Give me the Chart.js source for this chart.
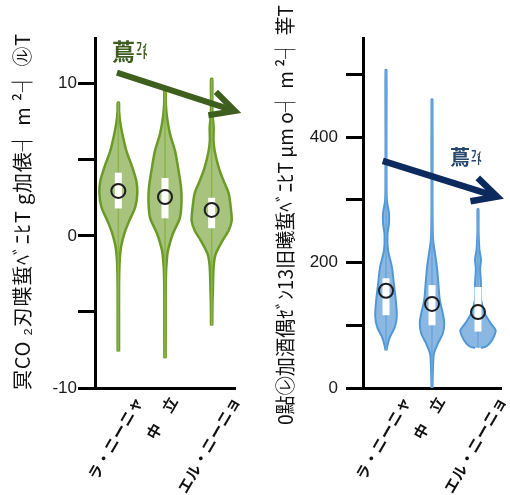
<!DOCTYPE html>
<html>
<head>
<meta charset="utf-8">
<script src="https://cdn.jsdelivr.net/npm/chart.js@4.4.1/dist/chart.umd.min.js"></script>
<style>
  html, body { margin: 0; padding: 0; background: #fff; }
  #wrap { position: relative; width: 510px; height: 495px; }
  canvas { position: absolute; top: 0; }
  #left { left: 0; }
  #right { left: 255px; }
</style>
</head>
<body>
<div id="wrap">
  <canvas id="left" width="255" height="495"></canvas>
  <canvas id="right" width="255" height="495"></canvas>
</div>
<script>
// ---- categories ----
const categories = ['ラ・ニーニャ', '中　立', 'エル・ニーニョ'];

// ---- left panel: CO2 flux ----
const co2Title = '冥CO ₂刃喋蜇ﾍﾞﾆﾋT g加俵┤ m ²┤ ㋸T';
const co2TickLabels = [-10, 0, 10];
// violin outlines: value levels and kernel half-widths (category units)
const co2Levels = [
  [-7.6, -6, -4, -2.5, -1.5, -0.7, 0.15, 1.0, 1.9, 2.8, 3.6, 4.5, 5.6, 6.7, 7.5, 8.2, 8.75],
  [-8.05, -6, -4, -2.5, -1.6, -0.95, 0.15, 1.2, 2.3, 3.2, 4.5, 5.6, 6.7, 7.8, 8.7, 9.55],
  [-5.9, -4.5, -3.5, -2, -1.2, -0.3, 0.35, 1.0, 1.9, 2.8, 3.6, 4.5, 5.6, 6.3, 7.1, 8, 9, 10.3]
];
const co2Widths = [
  [0.015, 0.015, 0.015, 0.019, 0.032, 0.06, 0.129, 0.236, 0.364, 0.407, 0.386, 0.3, 0.171, 0.086, 0.039, 0.017, 0.013],
  [0.013, 0.015, 0.015, 0.021, 0.039, 0.064, 0.171, 0.321, 0.354, 0.343, 0.279, 0.214, 0.107, 0.043, 0.017, 0.013],
  [0.013, 0.017, 0.026, 0.043, 0.086, 0.236, 0.364, 0.429, 0.407, 0.364, 0.257, 0.15, 0.064, 0.039, 0.043, 0.017, 0.013, 0.013]
];
const co2Q1 = [1.8, 1.15, 0.5];
const co2Q3 = [4.15, 3.8, 2.5];
const co2Mean = [2.95, 2.55, 1.7];

// ---- right panel: flux ----
const fluxTitle = '0點㋹加酒偶ｾﾞﾝ13旧曦蜇ﾍﾞﾆﾋT µm o┤ m ²┤ 莘T';
const fluxTickLabels = [0, 200, 400];
const fluxLevels = [
  [60, 68, 81, 97, 114, 140, 167, 193, 220, 245, 262, 279, 298, 320, 400, 507],
  [0, 20, 40, 55, 71, 87, 103, 119, 140, 167, 193, 215, 235, 260, 300, 460],
  [64, 66, 71, 81, 92, 103, 119, 140, 167, 190, 205, 220, 250, 285]
];
const fluxWidths = [
  [0.011, 0.032, 0.085, 0.191, 0.234, 0.213, 0.17, 0.128, 0.043, 0.032, 0.064, 0.064, 0.021, 0.013, 0.011, 0.011],
  [0.011, 0.017, 0.026, 0.043, 0.128, 0.234, 0.266, 0.234, 0.17, 0.138, 0.106, 0.064, 0.026, 0.015, 0.011, 0.011],
  [0.064, 0.17, 0.255, 0.34, 0.383, 0.277, 0.149, 0.068, 0.064, 0.047, 0.064, 0.032, 0.013, 0.011]
];
const fluxQ1 = [116, 100, 90];
const fluxQ3 = [175, 164, 161];
const fluxMean = [155, 134, 121];

const TICK_FONT = { family: '"Liberation Sans", Arial, sans-serif', size: 17 };
const CJK = '"Noto Sans CJK JP", sans-serif';

// rotated y-axis title, laid out from its bottom end upwards
const axisTitle = {
  id: 'axisTitle',
  afterDraw(chart, args, o) {
    const ctx = chart.ctx;
    ctx.save();
    ctx.font = `${o.size}px ${CJK}`;
    ctx.fillStyle = o.color;
    ctx.letterSpacing = '0px';
    const natural = ctx.measureText(o.text).width;
    const n = [...o.text].length;
    ctx.letterSpacing = Math.max(0, (o.length - natural) / (n - 1)) + 'px';
    ctx.translate(o.x, chart.chartArea.bottom + o.below);
    ctx.rotate(-Math.PI / 2);
    ctx.textAlign = 'left';
    ctx.textBaseline = 'middle';
    ctx.fillText(o.text, 0, 0, o.length);
    ctx.restore();
  }
};

// category names under the x axis, rotated and centred on each category
const categoryLabels = {
  id: 'categoryLabels',
  afterDraw(chart, args, o) {
    const { ctx, chartArea } = chart;
    const xs = chart.scales.x;
    const a = o.rotation * Math.PI / 180;
    ctx.save();
    ctx.font = `${o.weight} ${o.size}px ${CJK}`;
    ctx.fillStyle = o.color;
    ctx.letterSpacing = o.spacing + 'px';
    categories.forEach((t, i) => {
      const w = ctx.measureText(t).width;
      const bh = w * Math.sin(a) + o.size * Math.cos(a);
      const cx = xs.getPixelForValue(i) + o.shift;
      const cy = chartArea.bottom + o.gap + bh / 2;
      ctx.save();
      ctx.translate(cx, cy);
      ctx.rotate(-a);
      ctx.textAlign = 'center';
      ctx.textBaseline = 'middle';
      ctx.fillText(t, 0, 0);
      ctx.restore();
    });
    ctx.restore();
  }
};

// trend arrow with its caption
const trendArrow = {
  id: 'trendArrow',
  afterDatasetsDraw(chart, args, o) {
    const { ctx } = chart;
    const xs = chart.scales.x, ys = chart.scales.y;
    const x0 = xs.getPixelForValue(o.from[0]), y0 = ys.getPixelForValue(o.from[1]);
    const x1 = xs.getPixelForValue(o.to[0]), y1 = ys.getPixelForValue(o.to[1]);
    const ang = Math.atan2(y1 - y0, x1 - x0);
    const sp = o.spread * Math.PI / 180;
    ctx.save();
    ctx.strokeStyle = o.color;
    ctx.lineWidth = o.width;
    ctx.lineCap = 'butt';
    ctx.lineJoin = 'miter';
    ctx.beginPath();
    ctx.moveTo(x0, y0);
    ctx.lineTo(x1 - Math.cos(ang) * 2, y1 - Math.sin(ang) * 2);
    ctx.stroke();
    ctx.beginPath();
    ctx.moveTo(x1 - o.head * Math.cos(ang - sp), y1 - o.head * Math.sin(ang - sp));
    ctx.lineTo(x1, y1);
    ctx.lineTo(x1 - o.head * Math.cos(ang + sp), y1 - o.head * Math.sin(ang + sp));
    ctx.stroke();

    const lx = xs.getPixelForValue(o.label[0]), ly = ys.getPixelForValue(o.label[1]);
    ctx.fillStyle = o.textColor;
    ctx.font = `bold ${o.big}px ${CJK}`;
    ctx.textAlign = 'left';
    ctx.textBaseline = 'middle';
    ctx.fillText('蔦', lx, ly);
    const w = ctx.measureText('蔦').width;
    ctx.font = `bold ${o.small}px ${CJK}`;
    ctx.textBaseline = 'bottom';
    ctx.fillText('ﾌｨ', lx + w + 1, ly + 2);
    ctx.textBaseline = 'top';
    ctx.fillText('ｰﾄ', lx + w + 1, ly - 2);
    ctx.restore();
  }
};

function violinDatasets(levels, widths, q1, q3, mean, col) {
  const sets = [];
  levels.forEach((lv, i) => {
    const w = widths[i];
    const right = lv.map((v, k) => ({ x: i + w[k], y: v }));
    const left = lv.map((v, k) => ({ x: i - w[k], y: v })).reverse();
    sets.push({
      type: 'line', data: right.concat(left), order: 4,
      borderColor: col.line, borderWidth: col.lw, backgroundColor: col.fill,
      fill: 'shape', tension: 0.3, pointRadius: 0
    });
    sets.push({
      type: 'line', order: 3, pointRadius: 0,
      data: [{ x: i, y: lv[0] }, { x: i, y: lv[lv.length - 1] }],
      borderColor: col.whisker, borderWidth: 1.5
    });
    sets.push({
      type: 'line', order: 2, pointRadius: 0,
      data: [{ x: i, y: q1[i] }, { x: i, y: q3[i] }],
      borderColor: '#ffffff', borderWidth: 7, borderCapStyle: 'butt'
    });
  });
  sets.push({
    type: 'scatter', order: 1,
    data: mean.map((m, i) => ({ x: i, y: m })),
    pointStyle: 'circle', pointRadius: 7, pointBorderWidth: 2,
    borderColor: '#1e1e1e', backgroundColor: 'rgba(0,0,0,0)'
  });
  return sets;
}

function makeChart(id, p) {
  return new Chart(document.getElementById(id), {
    type: 'line',
    data: { datasets: violinDatasets(p.levels, p.widths, p.q1, p.q3, p.mean, p.col) },
    options: {
      responsive: false,
      devicePixelRatio: 1,
      animation: false,
      layout: { padding: p.padding },
      plugins: {
        legend: { display: false },
        tooltip: { enabled: false },
        axisTitle: p.title,
        categoryLabels: { size: 15, weight: 'bold', color: '#111', spacing: 0.5, rotation: 60, gap: 6, shift: -3 },
        trendArrow: p.arrow
      },
      scales: {
        x: {
          type: 'linear', min: -0.5, max: 2.5,
          ticks: { display: false },
          grid: { display: true, drawOnChartArea: false, drawTicks: false },
          border: { display: true, width: 3, color: '#000' },
          afterFit: s => { s.height = 0; }
        },
        y: {
          type: 'linear', min: p.min, max: p.max,
          afterBuildTicks: s => { s.ticks = s.ticks.filter(t => t.value % p.step === 0); },
          ticks: {
            stepSize: p.step,
            padding: p.labelPad,
            color: '#1a1a1a',
            font: TICK_FONT,
            callback: v => (p.tickLabels.includes(v) ? String(v) : '')
          },
          grid: { display: true, drawOnChartArea: false, drawTicks: true, tickLength: 17, tickWidth: 3, tickColor: '#000' },
          border: { display: true, width: 3, color: '#000' },
          title: { display: false },
          afterFit: s => { s.width = p.axisWidth; }
        }
      }
    },
    plugins: [axisTitle, categoryLabels, trendArrow]
  });
}

makeChart('left', {
  levels: co2Levels, widths: co2Widths, q1: co2Q1, q3: co2Q3, mean: co2Mean,
  col: { line: '#6c9a27', fill: '#a7c37e', whisker: '#8ab54a', lw: 2.5 },
  min: -10, max: 13, step: 5, tickLabels: co2TickLabels,
  title: { text: co2Title, size: 20, color: '#111', x: 22, below: 2, length: 357 },
  padding: { left: 12, top: 38, right: 20, bottom: 107 }, axisWidth: 83, labelPad: 1,
  arrow: { from: [-0.03, 10.72], to: [2.5, 8.2], color: '#3f5f1e', width: 6, head: 27, spread: 27,
           label: [-0.136, 12.16], textColor: '#3e5b20', big: 23, small: 12 }
});

makeChart('right', {
  levels: fluxLevels, widths: fluxWidths, q1: fluxQ1, q3: fluxQ3, mean: fluxMean,
  col: { line: '#5197d5', fill: '#8ab8e3', whisker: '#6aa6dc', lw: 2 },
  min: 0, max: 558, step: 100, tickLabels: fluxTickLabels,
  title: { text: fluxTitle, size: 20, color: '#111', x: 30, below: 37, length: 420 },
  padding: { left: 20, top: 38, right: 6, bottom: 107 }, axisWidth: 88, labelPad: 8,
  arrow: { from: [-0.07, 362], to: [2.415, 305], color: '#0d2a5f', width: 6.5, head: 27, spread: 27,
           label: [1.394, 368], textColor: '#25476e', big: 20, small: 11 }
});
</script>
</body>
</html>
